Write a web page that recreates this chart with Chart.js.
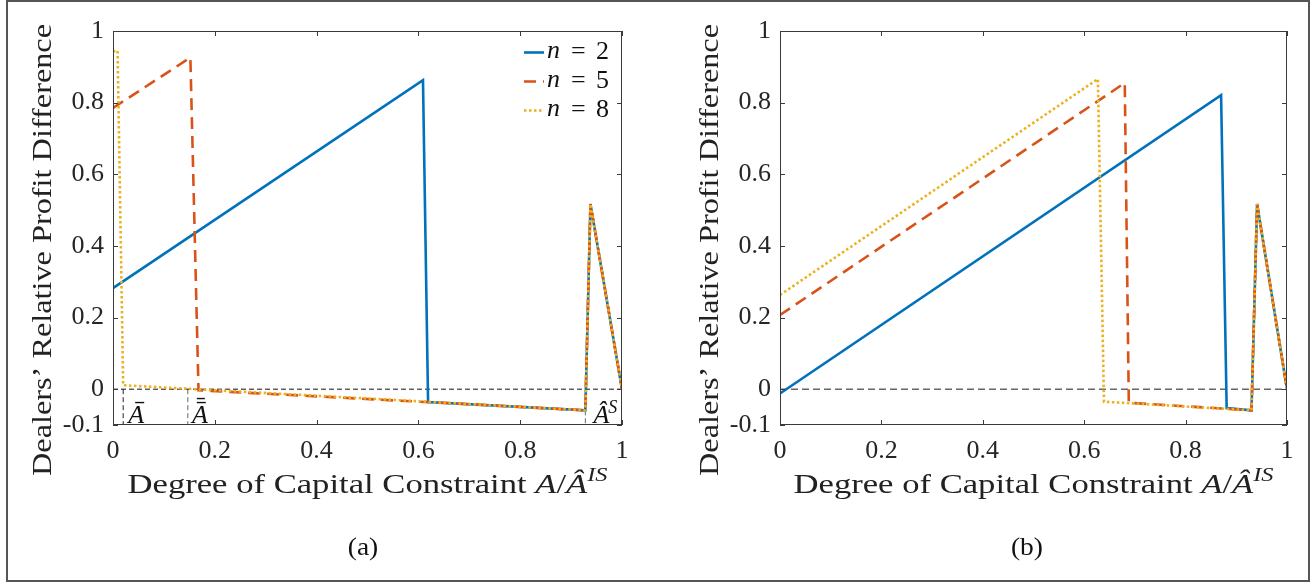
<!DOCTYPE html>
<html><head><meta charset="utf-8">
<script src="https://cdn.jsdelivr.net/npm/chart.js@4"></script>
<style>
html,body{margin:0;padding:0;background:#fff;}
#wrap{position:relative;width:1315px;height:586px;overflow:hidden;background:#fff;}
#frame{position:absolute;left:6px;top:0px;width:1300px;height:578px;border:2px solid #555;box-sizing:content-box;}
canvas{position:absolute;top:0;}
.cap{position:absolute;font-family:"Liberation Serif",serif;font-size:25px;color:#111;transform:translateX(-50%) scaleX(1.1);line-height:28px;}
</style></head>
<body><div id="wrap"><div id="frame"></div>
<canvas id="ca" width="657" height="586" style="left:0"></canvas>
<canvas id="cb" width="658" height="586" style="left:657px"></canvas>
<div class="cap" style="left:363px;top:533px">(a)</div>
<div class="cap" style="left:1027px;top:533px">(b)</div>
</div>
<script>
// ---------- data ----------
const xTicks = [0, 0.2, 0.4, 0.6, 0.8, 1];
const yTicks = [-0.1, 0, 0.2, 0.4, 0.6, 0.8, 1];
const seriesNames = ['2', '5', '8'];

// panel (a)
const n2A_x = [0, 0.609, 0.619, 0.928, 0.938, 1];
const n2A_y = [0.282, 0.863, -0.036, -0.059, 0.517, 0];
const n5A_x = [0, 0.152, 0.168, 0.928, 0.938, 1];
const n5A_y = [0.785, 0.926, -0.003, -0.059, 0.517, 0];
const n8A_x = [0, 0.009, 0.02, 0.928, 0.938, 1];
const n8A_y = [0.943, 0.945, 0.011, -0.059, 0.517, 0];

// panel (b)
const n2B_x = [0, 0.870, 0.881, 0.930, 0.941, 1];
const n2B_y = [-0.012, 0.821, -0.053, -0.059, 0.517, 0];
const n5B_x = [0, 0.680, 0.688, 0.930, 0.941, 1];
const n5B_y = [0.207, 0.855, -0.038, -0.059, 0.517, 0];
const n8B_x = [0, 0.627, 0.639, 0.930, 0.941, 1];
const n8B_y = [0.263, 0.866, -0.035, -0.059, 0.517, 0];

// reference markers in panel (a)
const zeroLine_x = [0, 1];
const zeroLine_y = [0, 0];
const markA1 = 0.02;    // A bar
const markA2 = 0.147;   // A double bar
const markAS = 0.928;   // A hat S
const markAS_top = -0.059;
const yMin = -0.1;

// ---------- helpers ----------
const FONT = '"Liberation Serif","Times New Roman",serif';
const C2 = '#0072BD', C5 = '#D95319', C8 = '#EDB120';
const DASH5 = [12, 7], DOT8 = [2.5, 2.5];

function pts(xs, ys){ return xs.map((x,i)=>({x:x, y:ys[i]})); }
function seriesDS(name, xs, ys, color, dash, order){
  return {label:'n = '+name, data:pts(xs,ys), borderColor:color, borderWidth:2.6,
    borderDash:dash, borderCapStyle:'butt', borderJoinStyle:'miter', pointRadius:0, tension:0, fill:false, order:order};
}
function refDS(xs, ys, color, dash, width){
  return {label:'', data:pts(xs,ys), borderColor:color, borderWidth:width, borderDash:dash,
    pointRadius:0, tension:0, fill:false, order:10, isRef:true};
}

function drawRich(ctx, parts, targetW){
  // draws centered at origin (baseline 0), stretched horizontally to targetW
  let total = 0;
  parts.forEach(p=>{ ctx.font = (p.italic?'italic ':'')+p.size+'px '+FONT; p.w = ctx.measureText(p.t).width; total += p.w; });
  const sx = targetW/total;
  ctx.scale(sx, 1);
  let cx = -total/2;
  parts.forEach(p=>{ ctx.font = (p.italic?'italic ':'')+p.size+'px '+FONT; ctx.fillText(p.t, cx, (p.dy||0)); cx += p.w; });
}
const tickFmt = v => String(Math.round(v*10)/10);

const boxPlugin = {
  id:'boxTicks',
  afterDatasetsDraw(chart){
    const {ctx, chartArea:a, scales:{x, y}} = chart;
    ctx.save();
    ctx.setLineDash([]);
    ctx.strokeStyle = '#3a3a3a';
    ctx.lineWidth = 1;
    ctx.strokeRect(a.left+0.5, a.top+0.5, a.right-a.left-1, a.bottom-a.top-1);
    ctx.beginPath();
    const L = 5;
    xTicks.forEach(v=>{ const p = Math.round(x.getPixelForValue(v))+0.5;
      ctx.moveTo(p, a.bottom); ctx.lineTo(p, a.bottom-L);
      ctx.moveTo(p, a.top); ctx.lineTo(p, a.top+L); });
    yTicks.forEach(v=>{ const p = Math.round(y.getPixelForValue(v))+0.5;
      ctx.moveTo(a.left, p); ctx.lineTo(a.left+L, p);
      ctx.moveTo(a.right, p); ctx.lineTo(a.right-L, p); });
    ctx.stroke();
    ctx.restore();
  },
  afterDraw(chart){
    const {ctx, chartArea:a} = chart;
    ctx.save();
    ctx.fillStyle = '#222';
    ctx.textBaseline = 'alphabetic';
    ctx.textAlign = 'left';
    ctx.translate((a.left+a.right)/2, 493);
    drawRich(ctx, [
      {t:'Degree of Capital Constraint ', italic:false, size:27},
      {t:'A', italic:true, size:27},
      {t:'/', italic:false, size:27},
      {t:'Â', italic:true, size:27},
      {t:'IS', italic:true, size:19, dy:-12}
    ], 480);
    ctx.restore();
    ctx.save();
    ctx.fillStyle = '#222';
    ctx.textBaseline = 'alphabetic';
    ctx.textAlign = 'left';
    ctx.translate(a.left-62, (a.top+a.bottom)/2+22);
    ctx.rotate(-Math.PI/2);
    drawRich(ctx, [{t:'Dealers\u2019 Relative Profit Difference', italic:false, size:27}], 452);
    ctx.restore();
  }
};

const legendPlugin = {
  id:'innerLegend',
  afterDraw(chart){
    const {ctx, chartArea:a} = chart;
    const ds = chart.data.datasets.filter(d=>!d.isRef);
    ds.sort((p,q)=>q.order-p.order);
    ctx.save();
    ds.forEach((d,i)=>{
      const yy = a.top + 21 + i*29;
      ctx.beginPath();
      ctx.strokeStyle = d.borderColor; ctx.lineWidth = 2.6; ctx.lineCap='butt';
      ctx.setLineDash(d.borderDash||[]);
      ctx.moveTo(a.right-98, yy+0.5); ctx.lineTo(a.right-78, yy+0.5); ctx.stroke();
      ctx.setLineDash([]);
      ctx.fillStyle = '#111'; ctx.textBaseline='middle'; ctx.textAlign='left';
      ctx.font = 'italic 26px '+FONT; ctx.fillText('n', a.right-75, yy-1);
      ctx.font = '26px '+FONT; ctx.fillText('=', a.right-51, yy);
      ctx.fillText(seriesNames[i], a.right-26, yy);
    });
    ctx.restore();
  }
};

const markPlugin = {
  id:'marks',
  afterDatasetsDraw(chart){
    const {ctx, scales:{x, y}} = chart;
    ctx.save();
    ctx.fillStyle = '#111';
    ctx.textBaseline = 'alphabetic'; ctx.textAlign='center';
    const base = y.getPixelForValue(-0.094);
    ctx.font = 'italic 26px '+FONT;
    let c = x.getPixelForValue(markA1) + 13;
    ctx.fillText('A', c, base);
    ctx.fillRect(c-1, base-21, 9, 1.4);
    c = x.getPixelForValue(markA2) + 12;
    ctx.fillText('A', c, base);
    ctx.fillRect(c-3, base-25, 8, 1.4);
    ctx.fillRect(c-3, base-21, 9, 1.4);
    c = x.getPixelForValue(markAS) + 16;
    ctx.fillText('Â', c, base);
    ctx.font = 'italic 18px '+FONT; ctx.textAlign='left';
    ctx.fillText('S', c+7, base-10);
    ctx.restore();
  }
};

function makeChart(id, datasets, yW, padR, plugins){
  return new Chart(document.getElementById(id), {
    type:'line',
    data:{datasets:datasets},
    options:{
      responsive:false, animation:false, devicePixelRatio:1,
      layout:{padding:{top:31, right:padR, bottom:91, left:0}},
      plugins:{legend:{display:false}, tooltip:{enabled:false}, title:{display:false}},
      scales:{
        x:{type:'linear', min:0, max:1,
          afterBuildTicks:s=>{ s.ticks = xTicks.map(v=>({value:v})); },
          afterFit:s=>{ s.height = 70; },
          grid:{display:false, drawTicks:false}, border:{display:false},
          ticks:{padding:11, color:'#262626', font:{family:FONT, size:26}, maxRotation:0, autoSkip:false, callback:tickFmt}},
        y:{type:'linear', min:-0.1, max:1,
          afterBuildTicks:s=>{ s.ticks = yTicks.map(v=>({value:v})); },
          afterFit:s=>{ s.width = yW; },
          grid:{display:false, drawTicks:false}, border:{display:false},
          ticks:{padding:9, color:'#262626', font:{family:FONT, size:26}, autoSkip:false, callback:tickFmt}}
      }
    },
    plugins:plugins
  });
}

makeChart('ca', [
  seriesDS(seriesNames[0], n2A_x, n2A_y, C2, [], 3),
  seriesDS(seriesNames[1], n5A_x, n5A_y, C5, DASH5, 2),
  seriesDS(seriesNames[2], n8A_x, n8A_y, C8, DOT8, 1),
  refDS(zeroLine_x, zeroLine_y, '#111', [5,3], 1),
  refDS([markA1, markA1], [0, yMin], '#222', [5,3], 1),
  refDS([markA2, markA2], [0, yMin], '#666', [5,3], 1),
  refDS([markAS, markAS], [markAS_top, yMin], '#666', [5,3], 1)
], 113, 35, [boxPlugin, legendPlugin, markPlugin]);

makeChart('cb', [
  seriesDS(seriesNames[0], n2B_x, n2B_y, C2, [], 3),
  seriesDS(seriesNames[1], n5B_x, n5B_y, C5, DASH5, 2),
  seriesDS(seriesNames[2], n8B_x, n8B_y, C8, DOT8, 1),
  refDS(zeroLine_x, zeroLine_y, '#666', [7,4], 1.5)
], 123, 28, [boxPlugin]);
</script>
</body></html>
